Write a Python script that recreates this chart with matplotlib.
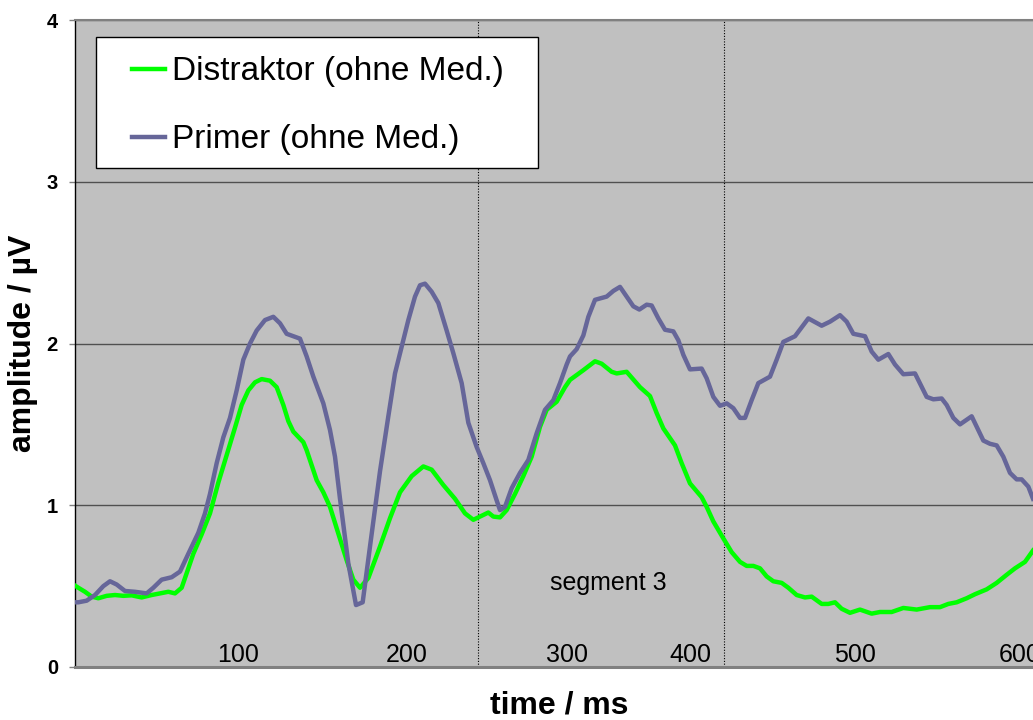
import matplotlib
matplotlib.use('Agg')
import matplotlib.pyplot as plt
from matplotlib.patches import Rectangle

plt.rcParams['font.family'] = ['Liberation Sans', 'DejaVu Sans']

# time in ms, amplitude in uV
t_primer = [0.5, 2, 7, 12, 17, 21, 25, 30, 36, 43, 47, 52, 58, 63, 68, 74, 78, 81, 85, 89,
            93, 97, 101, 105, 109, 114, 119, 123, 127, 135, 139, 143, 149, 153, 156, 159,
            164, 168.6, 172.6, 177, 183, 188, 192, 196, 200, 204, 207, 210, 214, 218, 223,
            227, 232, 236, 241, 245, 249, 253, 255, 258, 262, 267, 272, 277, 282, 287, 291,
            295, 297, 301, 305, 308, 312, 319, 323, 327, 331, 335, 338.6, 343, 346, 350,
            354, 359, 362, 365, 369, 376, 379, 383, 387, 391, 395, 399, 402, 406, 410, 417,
            421, 425, 432, 440, 448, 453, 459, 463, 467, 474, 478, 482, 488, 492, 497, 504,
            511, 515, 520, 523, 527, 531, 538, 545, 549, 553, 557, 561, 565, 568, 572, 574.8]
primer = [0.40, 0.40, 0.41, 0.445, 0.50, 0.53, 0.51, 0.47, 0.465, 0.455, 0.49, 0.54, 0.555,
          0.59, 0.70, 0.83, 0.95, 1.07, 1.26, 1.42, 1.54, 1.71, 1.90, 2.00, 2.08, 2.145,
          2.165, 2.125, 2.06, 2.03, 1.92, 1.795, 1.63, 1.465, 1.30, 1.04, 0.64, 0.383, 0.40,
          0.745, 1.21, 1.55, 1.815, 1.98, 2.145, 2.29, 2.36, 2.37, 2.32, 2.25, 2.08, 1.94,
          1.755, 1.51, 1.36, 1.26, 1.155, 1.03, 0.97, 0.99, 1.105, 1.20, 1.28, 1.445, 1.59,
          1.65, 1.755, 1.87, 1.92, 1.965, 2.05, 2.165, 2.27, 2.29, 2.325, 2.35, 2.29, 2.23,
          2.21, 2.24, 2.235, 2.155, 2.085, 2.075, 2.02, 1.93, 1.84, 1.845, 1.785, 1.67,
          1.615, 1.63, 1.60, 1.54, 1.54, 1.65, 1.755, 1.795, 1.90, 2.01, 2.045, 2.155, 2.11,
          2.135, 2.175, 2.135, 2.06, 2.045, 1.95, 1.90, 1.935, 1.87, 1.81, 1.815, 1.67,
          1.655, 1.66, 1.62, 1.54, 1.50, 1.55, 1.40, 1.38, 1.37, 1.30, 1.20, 1.16, 1.16,
          1.115, 1.04]

t_distr = [0.5, 2, 6, 10, 14, 19, 24, 29, 34, 40, 46, 51, 56, 60, 64, 67, 71, 76, 81, 86,
           91, 96, 100, 104, 108, 112, 117, 121, 125, 128, 131, 137, 139, 145, 149, 153, 158,
           163, 167, 171, 176, 183, 189, 195, 202, 209, 214, 221, 228, 234, 239, 243, 248,
           251, 255, 259, 264, 269, 274, 279, 283, 289, 294, 297, 305, 312, 316, 322, 325,
           331, 339, 345, 349, 353, 360, 364, 369, 376, 379, 383, 389, 394, 399, 403, 407,
           411, 415, 419, 424, 428, 433, 438, 442, 448, 452, 456, 460, 465, 471, 478, 483,
           490, 497, 505, 513, 519, 524, 529, 535, 540, 547, 553, 559, 564, 570, 574.8]
distraktor = [0.50, 0.49, 0.465, 0.435, 0.425, 0.44, 0.445, 0.44, 0.443, 0.43, 0.445, 0.455,
              0.465, 0.455, 0.49, 0.58, 0.70, 0.82, 0.95, 1.14, 1.31, 1.48, 1.62, 1.71, 1.76,
              1.78, 1.77, 1.73, 1.62, 1.52, 1.455, 1.39, 1.34, 1.155, 1.08, 0.99, 0.825, 0.66,
              0.54, 0.49, 0.55, 0.745, 0.92, 1.08, 1.18, 1.24, 1.22, 1.125, 1.04, 0.95, 0.91,
              0.93, 0.955, 0.93, 0.925, 0.97, 1.07, 1.18, 1.30, 1.485, 1.59, 1.64, 1.73, 1.775,
              1.835, 1.89, 1.875, 1.825, 1.815, 1.825, 1.73, 1.675, 1.57, 1.475, 1.37, 1.26,
              1.135, 1.05, 0.99, 0.90, 0.795, 0.71, 0.65, 0.625, 0.625, 0.61, 0.56, 0.53,
              0.52, 0.49, 0.445, 0.43, 0.435, 0.39, 0.39, 0.40, 0.36, 0.335, 0.355, 0.33,
              0.34, 0.34, 0.365, 0.355, 0.37, 0.37, 0.39, 0.40, 0.425, 0.45, 0.48, 0.52, 0.57,
              0.61, 0.65, 0.72]

tick_pos = [98, 199, 295, 369, 468, 567]
tick_labels = ['100', '200', '300', '400', '500', '600']
segment_bounds = [242, 389.4]

fig = plt.figure(figsize=(10.33, 7.2), dpi=100)
ax = fig.add_axes([75 / 1033, 53 / 720, 958 / 1033, 647 / 720])
ax.set_facecolor('#C0C0C0')
ax.set_xlim(0, 574.8)
ax.set_ylim(0, 4)

ax.yaxis.grid(True, color='#505050', lw=1.0)
ax.set_axisbelow(True)

for xb in segment_bounds:
    ax.axvline(xb, color='black', lw=0.8, ls=(0, (1, 1.5)), zorder=2)

l1, = ax.plot(t_distr, distraktor, color='#00FF00', lw=3.2, solid_joinstyle='round',
              zorder=3, label='Distraktor (ohne Med.)')
l2, = ax.plot(t_primer, primer, color='#666699', lw=3.2, solid_joinstyle='round',
              zorder=3, label='Primer (ohne Med.)')

ax.text(320, 0.52, 'segment 3', fontsize=18, ha='center', va='center')

# legend box
ax.add_patch(Rectangle((0.0219, 0.7713), 0.4614, 0.2025, transform=ax.transAxes,
                       facecolor='white', edgecolor='black', lw=1, zorder=4))
leg = ax.legend(handles=[l1, l2], loc='upper left', bbox_to_anchor=(0.0595, 0.944),
                frameon=False, fontsize=24, borderpad=0, handlelength=1.0,
                handletextpad=0.2, labelspacing=1.11, borderaxespad=0)
leg.set_zorder(5)

ax.set_xticks(tick_pos, tick_labels)
ax.tick_params(axis='x', length=0, pad=-17, labelsize=18)
ax.set_yticks([0, 1, 2, 3, 4])
ax.tick_params(axis='y', length=4.3, width=1, color='#808080', pad=8, labelsize=14.5)
for lab in ax.get_yticklabels():
    lab.set_fontweight('bold')

ax.spines['right'].set_visible(False)
ax.spines['left'].set_color('black')
ax.spines['left'].set_linewidth(1)
ax.spines['top'].set_color('#808080')
ax.spines['top'].set_linewidth(1.5)
ax.spines['bottom'].set_color('#808080')
ax.spines['bottom'].set_linewidth(2.2)

ax.set_xlabel('time / ms', fontsize=23, fontweight='bold')
ax.xaxis.set_label_coords(0.506, -0.036)
ax.set_ylabel('amplitude / µV', fontsize=23, fontweight='bold')
ax.yaxis.set_label_coords(-0.039, 0.5)

fig.savefig('out.png', dpi=100)
